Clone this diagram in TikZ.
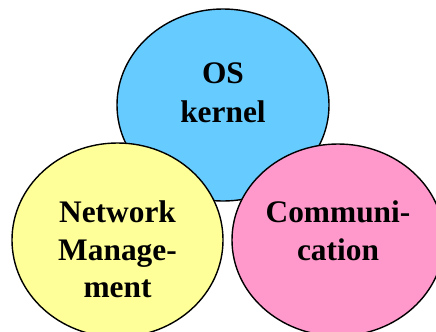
\documentclass[tikz,border=0pt]{standalone}
\usepackage{fontspec}
\setmainfont{Liberation Serif}
\usetikzlibrary{shapes.geometric}
\definecolor{kernblue}{HTML}{66CCFF}
\definecolor{netyellow}{HTML}{FFFF99}
\definecolor{compink}{HTML}{FF99CC}
\tikzset{
  blob/.style={ellipse, draw=black, line width=1.4bp, inner sep=0pt, outer sep=0pt},
  word/.style={anchor=base, inner sep=0pt, font=\fontsize{31.5}{38}\selectfont\bfseries}
}
\begin{document}
\begin{tikzpicture}[x=1bp, y=-1bp]
  \useasboundingbox (0,0) rectangle (436,331);
  \clip (0,0) rectangle (436,331);
  % the three overlapping areas
  \node[blob, fill=kernblue, minimum width=212bp, minimum height=192bp] (kern) at (223,105) {};
  \node[blob, fill=netyellow, minimum width=211bp, minimum height=194bp] (net) at (117.5,240) {};
  \node[blob, fill=compink, minimum width=212bp, minimum height=192bp] (com) at (338,240) {};
  % labels
  \node[word] (os1) at (223,83) {OS};
  \node[word] (os2) at (223,122) {kernel};
  \node[word] (nm1) at (117.5,222) {Network};
  \node[word] (nm2) at (117.5,260) {Manage-};
  \node[word] (nm3) at (117.5,297) {ment};
  \node[word] (cm1) at (338,222) {Communi-};
  \node[word] (cm2) at (338,260) {cation};
\end{tikzpicture}
\end{document}
